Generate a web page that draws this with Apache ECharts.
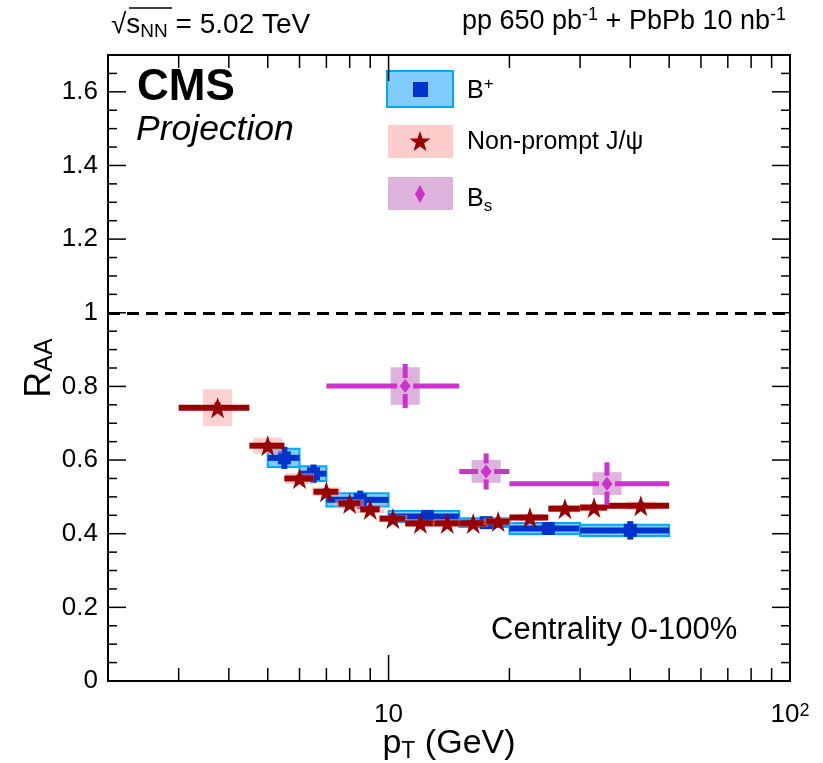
<!DOCTYPE html>
<html>
<head>
<meta charset="utf-8">
<script src="https://cdn.jsdelivr.net/npm/echarts@6/dist/echarts.min.js"></script>
<style>
html, body { margin: 0; padding: 0; background: #fff; }
#chart { width: 823px; height: 763px; }
</style>
</head>
<body>
<div id="chart"></div>
<script>
// B+ points (bin edges, bin centre, RAA, stat and syst errors)
var bpLo = [5, 6, 7, 10, 15, 20, 30];
var bpHi = [6, 7, 10, 15, 20, 30, 50];
var bpPt = [5.5, 6.5, 8.5, 12.5, 17.5, 25, 40];
var bpRaa = [0.606, 0.563, 0.492, 0.447, 0.43, 0.414, 0.409];
var bpStat = [0.03, 0.025, 0.025, 0.012, 0.01, 0.012, 0.025];
var bpSys = [0.025, 0.02, 0.018, 0.015, 0.012, 0.015, 0.015];

// non-prompt J/psi points
var jpLo = [3, 4.5, 5.5, 6.5, 7.5, 8.5, 9.5, 11, 13, 15, 17.5, 20, 25, 30, 35];
var jpHi = [4.5, 5.5, 6.5, 7.5, 8.5, 9.5, 11, 13, 15, 17.5, 20, 25, 30, 35, 50];
var jpPt = [3.75, 5, 6, 7, 8, 9, 10.25, 12, 14, 16.25, 18.75, 22.5, 27.5, 32.5, 42.5];
var jpRaa = [0.742, 0.639, 0.55, 0.514, 0.482, 0.466, 0.441, 0.428, 0.428, 0.428, 0.433, 0.444, 0.468, 0.471, 0.476];
var jpStat = [0.015, 0.01, 0.01, 0.01, 0.01, 0.01, 0.008, 0.008, 0.008, 0.008, 0.008, 0.008, 0.01, 0.01, 0.01];
var jpSys = [0.05, 0.022, 0.015, 0.012, 0.012, 0.01, 0.01, 0.01, 0.01, 0.01, 0.01, 0.01, 0.01, 0.01, 0.012];

// Bs points
var bsLo = [7, 15, 20];
var bsHi = [15, 20, 50];
var bsPt = [11, 17.5, 35];
var bsRaa = [0.801, 0.569, 0.536];
var bsStat = [0.06, 0.049, 0.058];
var bsSys = [0.051, 0.031, 0.031];

// axis ticks
var xMajorTicks = [10, 100];
var xMinorTicks = [3, 4, 5, 6, 7, 8, 9, 20, 30, 40, 50, 60, 70, 80, 90];
var yMajorTicks = [0, 0.2, 0.4, 0.6, 0.8, 1, 1.2, 1.4, 1.6];

var FONT = 'Liberation Sans, Arial, sans-serif';
var BOX_FACTOR = 1.087;   // half width of the syst. boxes (log scale)

var chart = echarts.init(document.getElementById('chart'));

function zip(lo, hi, pt, val, stat, sys) {
    var out = [];
    for (var i = 0; i < pt.length; i++) {
        out.push([lo[i], hi[i], pt[i], val[i], stat[i], sys[i]]);
    }
    return out;
}

// error bars + systematic box
function errorItem(cfg) {
    return function (params, api) {
        var lo = api.value(0), hi = api.value(1), x = api.value(2), y = api.value(3);
        var st = api.value(4), sy = api.value(5);
        var c = api.coord([x, y]);
        var a = api.coord([lo, y]), b = api.coord([hi, y]);
        var t = api.coord([x, y + st]), d = api.coord([x, y - st]);
        var bx0, bx1;
        if (cfg.fullBin) {
            bx0 = a[0]; bx1 = b[0];
        } else {
            bx0 = api.coord([x / BOX_FACTOR, y])[0];
            bx1 = api.coord([x * BOX_FACTOR, y])[0];
        }
        var sTop = api.coord([x, y + sy])[1], sBot = api.coord([x, y - sy])[1];
        var g = cfg.gap || 0;
        var children = [{
            type: 'rect',
            shape: { x: bx0, y: sTop, width: bx1 - bx0, height: sBot - sTop },
            style: { fill: cfg.boxFill, stroke: cfg.boxStroke || null, lineWidth: cfg.boxStroke ? 2 : 0 }
        }];
        var ls = { stroke: cfg.color, lineWidth: cfg.lw };
        children.push({ type: 'line', shape: { x1: a[0], y1: c[1], x2: c[0] - g, y2: c[1] }, style: ls });
        children.push({ type: 'line', shape: { x1: c[0] + g, y1: c[1], x2: b[0], y2: c[1] }, style: ls });
        children.push({ type: 'line', shape: { x1: c[0], y1: t[1], x2: c[0], y2: c[1] - g }, style: ls });
        children.push({ type: 'line', shape: { x1: c[0], y1: c[1] + g, x2: c[0], y2: d[1] }, style: ls });
        return { type: 'group', children: children };
    };
}

function starPoints(cx, cy, R) {
    var pts = [], r = R * 0.4;
    for (var i = 0; i < 10; i++) {
        var ang = -Math.PI / 2 + i * Math.PI / 5;
        var rr = i % 2 === 0 ? R : r;
        pts.push([cx + rr * Math.cos(ang), cy + rr * Math.sin(ang)]);
    }
    return pts;
}

var STAR = 'path://M50,0 L61.8,36 L99,36 L69,58 L80.5,95 L50,72 L19.5,95 L31,58 L1,36 L38.2,36 Z';

var yMinor = [];
for (var k = 0; k < 34; k++) {
    if (k % 4 !== 0) yMinor.push(k * 0.05);
}

function xTickItem(params, api) {
    var cs = params.coordSys;
    var v = api.value(0), major = api.value(1);
    var px = api.coord([v, 0.5])[0];
    var len = major ? 26 : 13;
    var s = { stroke: '#000', lineWidth: 1.5 };
    return { type: 'group', children: [
        { type: 'line', shape: { x1: px, y1: cs.y + cs.height, x2: px, y2: cs.y + cs.height - len }, style: s },
        { type: 'line', shape: { x1: px, y1: cs.y, x2: px, y2: cs.y + len }, style: s }
    ] };
}
function yTickItem(params, api) {
    var cs = params.coordSys;
    var v = api.value(1), major = api.value(2);
    var py = api.coord([10, v])[1];
    var len = major ? 18 : 9;
    var s = { stroke: '#000', lineWidth: 1.5 };
    return { type: 'group', children: [
        { type: 'line', shape: { x1: cs.x, y1: py, x2: cs.x + len, y2: py }, style: s },
        { type: 'line', shape: { x1: cs.x + cs.width, y1: py, x2: cs.x + cs.width - len, y2: py }, style: s }
    ] };
}

var xTickData = xMajorTicks.map(function (v) { return [v, 1]; })
    .concat(xMinorTicks.map(function (v) { return [v, 0]; }));
var yTickData = yMajorTicks.map(function (v) { return [10, v, 1]; })
    .concat(yMinor.map(function (v) { return [10, v, 0]; }));

function textStyle(extra) {
    return Object.assign({ fontFamily: FONT, fill: '#000', fontSize: 25 }, extra);
}

var option = {
    animation: false,
    backgroundColor: '#fff',
    grid: {
        left: 108, right: 33, top: 55, bottom: 82, outerBoundsMode: 'none', containLabel: false,
        show: true, borderColor: '#000', borderWidth: 2, backgroundColor: 'transparent'
    },
    xAxis: {
        type: 'log', logBase: 10, min: 2, max: 100,
        axisLine: { show: false }, axisTick: { show: false }, splitLine: { show: false },
        axisLabel: {
            margin: 21, color: '#000', fontFamily: FONT, fontSize: 26,
            formatter: function (v) {
                var r = Math.round(v * 1000) / 1000;
                if (r === 10) return '10';
                if (r === 100) return '{b|10}{sup|2}';
                return '';
            },
            rich: {
                b: { fontSize: 26, fontFamily: FONT, color: '#000', verticalAlign: 'bottom', lineHeight: 26 },
                sup: { fontSize: 18, fontFamily: FONT, color: '#000', verticalAlign: 'top', lineHeight: 18, padding: [0, 0, 14, 0] }
            }
        },
        name: '{p|p}{s|T}{p| (GeV)}', nameLocation: 'middle', nameGap: 46, nameMoveOverlap: false,
        nameTextStyle: {
            rich: {
                p: { fontSize: 34, fontFamily: FONT, color: '#000', verticalAlign: 'top', lineHeight: 36 },
                s: { fontSize: 23, fontFamily: FONT, color: '#000', verticalAlign: 'bottom', lineHeight: 23, padding: [22, 0, 0, 0] }
            }
        }
    },
    yAxis: {
        type: 'value', min: 0, max: 1.7, interval: 0.2,
        axisLine: { show: false }, axisTick: { show: false }, splitLine: { show: false },
        axisLabel: { margin: 10, color: '#000', fontFamily: FONT, fontSize: 26, showMaxLabel: false },
        name: '{r|R}{s|AA}', nameLocation: 'middle', nameGap: 50, nameRotate: 90, nameMoveOverlap: false,
        nameTextStyle: {
            rich: {
                r: { fontSize: 36, fontFamily: FONT, color: '#000', verticalAlign: 'top', lineHeight: 36 },
                s: { fontSize: 25, fontFamily: FONT, color: '#000', verticalAlign: 'bottom', lineHeight: 25, padding: [22, 0, 0, 0] }
            }
        }
    },
    series: [
        {
            type: 'custom', name: 'xticks', renderItem: xTickItem, data: xTickData,
            encode: { x: 0 }, silent: true, z: 1
        },
        {
            type: 'custom', name: 'yticks', renderItem: yTickItem, data: yTickData,
            encode: { x: 0, y: 1 }, silent: true, z: 1
        },
        {
            type: 'custom', name: 'B+ err',
            renderItem: errorItem({ fullBin: true, boxFill: '#80ccff', boxStroke: '#00a8ff', color: '#0033cc', lw: 6 }),
            data: zip(bpLo, bpHi, bpPt, bpRaa, bpStat, bpSys), encode: { x: [0, 1, 2], y: 3 }, z: 2
        },
        {
            type: 'scatter', name: 'B+', symbol: 'rect', symbolSize: 13,
            itemStyle: { color: '#0033cc', opacity: 1 },
            data: bpPt.map(function (p, i) { return [p, bpRaa[i]]; }), z: 3,
            markLine: {
                silent: true, symbol: 'none', label: { show: false },
                lineStyle: { color: '#000', width: 3, type: [12, 7] },
                data: [{ yAxis: 1 }]
            }
        },
        {
            type: 'custom', name: 'J/psi err',
            renderItem: errorItem({ fullBin: false, boxFill: 'rgba(255,150,150,0.45)', color: '#990000', lw: 6 }),
            data: zip(jpLo, jpHi, jpPt, jpRaa, jpStat, jpSys), encode: { x: [0, 1, 2], y: 3 }, z: 4
        },
        {
            type: 'scatter', name: 'Non-prompt J/psi', symbol: STAR, symbolSize: 21,
            itemStyle: { color: '#990000', opacity: 1 },
            data: jpPt.map(function (p, i) { return [p, jpRaa[i]]; }), z: 5
        },
        {
            type: 'custom', name: 'Bs err',
            renderItem: errorItem({ fullBin: false, boxFill: 'rgba(187,102,187,0.5)', color: '#cc33cc', lw: 5, gap: 8 }),
            data: zip(bsLo, bsHi, bsPt, bsRaa, bsStat, bsSys), encode: { x: [0, 1, 2], y: 3 }, z: 6
        },
        {
            type: 'scatter', name: 'Bs', symbol: 'diamond', symbolSize: [11, 14],
            itemStyle: { color: '#cc33cc', opacity: 1 },
            data: bsPt.map(function (p, i) { return [p, bsRaa[i]]; }), z: 7
        }
    ],
    graphic: [
        // top labels
        { type: 'text', left: 111, top: 6, style: textStyle({
            text: '{n|√}{n|s}{sub|NN}{n| = 5.02 TeV}',
            rich: {
                n: { fontSize: 28, fontFamily: FONT, color: '#000', verticalAlign: 'top', lineHeight: 30 },
                sub: { fontSize: 19, fontFamily: FONT, color: '#000', verticalAlign: 'bottom', lineHeight: 19, padding: [16, 0, 0, 0] }
            }
        }) },
        { type: 'line', shape: { x1: 129, y1: 8, x2: 172, y2: 8 }, style: { stroke: '#000', lineWidth: 1.5 } },
        { type: 'text', right: 37, top: 6, style: textStyle({
            text: '{n|pp 650 pb}{sup|-1}{n| + PbPb 10 nb}{sup|-1}',
            rich: {
                n: { fontSize: 27, fontFamily: FONT, color: '#000', verticalAlign: 'bottom', lineHeight: 29 },
                sup: { fontSize: 18, fontFamily: FONT, color: '#000', verticalAlign: 'top', lineHeight: 18, padding: [0, 0, 14, 0] }
            }
        }) },
        // CMS Projection
        { type: 'text', left: 137, top: 66, style: textStyle({ text: 'CMS', fontSize: 44, fontWeight: 'bold' }) },
        { type: 'text', left: 136, top: 112, style: textStyle({ text: 'Projection', fontSize: 35.5, fontStyle: 'italic' }) },
        // legend
        { type: 'rect', shape: { x: 387, y: 71, width: 66, height: 36 }, style: { fill: '#80ccff', stroke: '#00a8ff', lineWidth: 2 } },
        { type: 'rect', shape: { x: 413, y: 82, width: 15, height: 15 }, style: { fill: '#0033cc' } },
        { type: 'text', left: 467, top: 76, style: textStyle({
            text: '{n|B}{sup|+}',
            rich: {
                n: { fontSize: 25, fontFamily: FONT, color: '#000', verticalAlign: 'bottom', lineHeight: 28 },
                sup: { fontSize: 17, fontFamily: FONT, color: '#000', verticalAlign: 'top', lineHeight: 17, padding: [0, 0, 12, 0] }
            }
        }) },
        { type: 'rect', shape: { x: 388, y: 125, width: 65, height: 33 }, style: { fill: '#ffcccc' } },
        { type: 'polygon', shape: { points: starPoints(420, 142, 11) }, style: { fill: '#990000' } },
        { type: 'text', left: 467, top: 130, style: textStyle({ text: 'Non-prompt J/ψ', fontSize: 25 }) },
        { type: 'rect', shape: { x: 388, y: 177, width: 65, height: 33 }, style: { fill: '#ddb2dd' } },
        { type: 'polygon', shape: { points: [[420, 185], [425, 194], [420, 203], [415, 194]] }, style: { fill: '#cc33cc' } },
        { type: 'text', left: 467, top: 180, style: textStyle({
            text: '{n|B}{sub|s}',
            rich: {
                n: { fontSize: 25, fontFamily: FONT, color: '#000', verticalAlign: 'top', lineHeight: 28 },
                sub: { fontSize: 17, fontFamily: FONT, color: '#000', verticalAlign: 'bottom', lineHeight: 17, padding: [18, 0, 0, 0] }
            }
        }) },
        // centrality
        { type: 'text', left: 491, top: 615, style: textStyle({ text: 'Centrality 0-100%', fontSize: 31 }) }
    ]
};

chart.setOption(option);
</script>
</body>
</html>
